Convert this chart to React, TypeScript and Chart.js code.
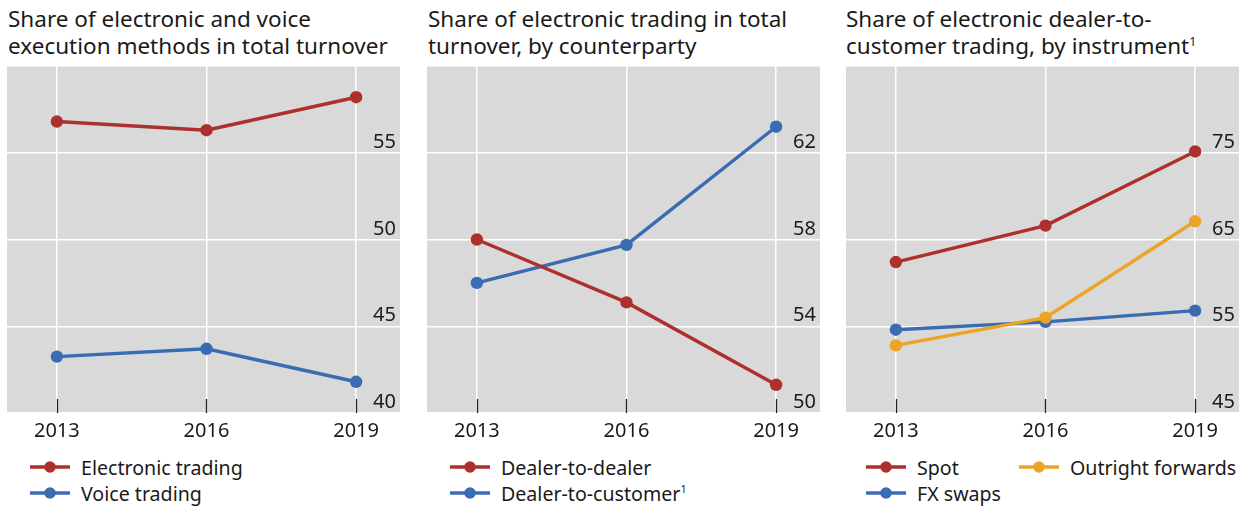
import React, { useEffect, useRef } from "react";
import { Chart, registerables } from "chart.js";

Chart.register(...registerables);

// ---------- data ----------
const years = [2013, 2016, 2019];

const electronicTrading = [56.8, 56.3, 58.2];
const voiceTrading = [43.25, 43.7, 41.8];

const dealerToDealer = [58.0, 55.1, 51.3];
const dealerToCustomer = [56.0, 57.75, 63.2];

const spot = [62.4, 66.6, 75.15];
const outrightForwards = [52.8, 56.0, 67.1];
const fxSwaps = [54.6, 55.5, 56.8];

const panel1YTicks = [40, 45, 50, 55];
const panel2YTicks = [50, 54, 58, 62];
const panel3YTicks = [45, 55, 65, 75];

// ---------- styles ----------
const RED = "#ad302c";
const BLUE = "#3a6cb3";
const ORANGE = "#eba426";
const BG = "#d9d9d9";
const TEXT = "#1a1a1a";
const FONT = "'Segoe UI', 'Noto Sans', 'Open Sans', sans-serif";

const PLOT_TOP = 66;
const PLOT_W = 393;

type Series = { label: string; values: number[]; color: string };

const bgPlugin = {
  id: "bgFill",
  beforeDraw(chart: any) {
    const { ctx, chartArea } = chart;
    ctx.save();
    ctx.fillStyle = BG;
    ctx.fillRect(chartArea.left, chartArea.top, chartArea.right - chartArea.left, chartArea.bottom - chartArea.top);
    ctx.restore();
  },
};

const innerTicksPlugin = {
  id: "innerTicks",
  afterDatasetsDraw(chart: any) {
    const { ctx, chartArea } = chart;
    const xs = chart.scales.x;
    ctx.save();
    ctx.strokeStyle = "#222";
    ctx.lineWidth = 1.3;
    xs.ticks.forEach((t: any) => {
      const px = Math.round(xs.getPixelForValue(t.value)) + 0.5;
      ctx.beginPath();
      ctx.moveTo(px, chartArea.bottom);
      ctx.lineTo(px, chartArea.bottom - 14);
      ctx.stroke();
    });
    ctx.restore();
  },
};

function makeYLabelPlugin(labels: number[]) {
  return {
    id: "yInsideLabels",
    afterDraw(chart: any) {
      const { ctx, chartArea } = chart;
      const ys = chart.scales.y;
      ctx.save();
      ctx.fillStyle = TEXT;
      ctx.font = `20px ${FONT}`;
      ctx.textAlign = "right";
      ctx.textBaseline = "alphabetic";
      labels.forEach((v) => {
        const py = ys.getPixelForValue(v);
        ctx.fillText(String(v), chartArea.right - 4, py - 5);
      });
      ctx.restore();
    },
  };
}

function LineChart({
  series,
  yMin,
  yMax,
  yStep,
  yLabels,
}: {
  series: Series[];
  yMin: number;
  yMax: number;
  yStep: number;
  yLabels: number[];
}) {
  const ref = useRef<HTMLCanvasElement>(null);
  useEffect(() => {
    const chart = new Chart(ref.current!, {
      type: "line",
      data: {
        datasets: series.map((s) => ({
          label: s.label,
          data: years.map((y, i) => ({ x: y, y: s.values[i] })),
          borderColor: s.color,
          backgroundColor: s.color,
          borderWidth: 3.4,
          pointRadius: 6.2,
          pointHoverRadius: 6.2,
          pointBorderWidth: 0,
          tension: 0,
          clip: false as any,
        })),
      },
      options: {
        animation: false,
        responsive: true,
        maintainAspectRatio: false,
        layout: { padding: 0, autoPadding: false },
        events: [],
        plugins: { legend: { display: false }, tooltip: { enabled: false } },
        scales: {
          x: {
            type: "linear",
            min: 2012,
            max: 2019.88,
            afterBuildTicks: (s: any) => {
              s.ticks = years.map((v) => ({ value: v }));
            },
            ticks: {
              callback: (v: any) => String(v),
              font: { family: FONT, size: 20 },
              color: TEXT,
              padding: 6,
              maxRotation: 0,
              autoSkip: false,
            },
            grid: { color: "#ffffff", lineWidth: 1.5, drawTicks: false },
            border: { display: false },
          },
          y: {
            position: "right",
            min: yMin,
            max: yMax,
            afterBuildTicks: (s: any) => {
              const t: any[] = [];
              for (let v = yMin; v <= yMax + 1e-9; v += yStep) t.push({ value: v });
              s.ticks = t;
            },
            ticks: { display: false },
            grid: { color: "#ffffff", lineWidth: 1.5, drawTicks: false },
            border: { display: false },
          },
        },
      } as any,
      plugins: [bgPlugin, innerTicksPlugin, makeYLabelPlugin(yLabels)],
    });
    return () => chart.destroy();
  }, []);
  return <canvas ref={ref} />;
}

function Marker({ color }: { color: string }) {
  return (
    <svg width={40} height={14} style={{ display: "block" }}>
      <line x1={0} y1={7} x2={40} y2={7} stroke={color} strokeWidth={3.4} />
      <circle cx={20} cy={7} r={5.8} fill={color} />
    </svg>
  );
}

function LegendItem({ color, children, x, y }: { color: string; children: React.ReactNode; x: number; y: number }) {
  return (
    <div
      style={{
        position: "absolute",
        left: x,
        top: y - 13,
        height: 26,
        display: "flex",
        alignItems: "center",
        whiteSpace: "nowrap",
        fontFamily: FONT,
        fontSize: 19.6,
        color: TEXT,
      }}
    >
      <Marker color={color} />
      <span style={{ marginLeft: 11 }}>{children}</span>
    </div>
  );
}

const sup: React.CSSProperties = { fontSize: "0.55em", verticalAlign: "super", lineHeight: 0 };

function Title({ x, children }: { x: number; children: React.ReactNode }) {
  return (
    <div
      style={{
        position: "absolute",
        left: x,
        top: 5,
        width: 410,
        fontFamily: FONT,
        fontSize: 22.5,
        lineHeight: "27px",
        color: TEXT,
      }}
    >
      {children}
    </div>
  );
}

function ChartBox({ x, children }: { x: number; children: React.ReactNode }) {
  return (
    <div style={{ position: "absolute", left: x, top: PLOT_TOP, width: PLOT_W, height: 383 }}>{children}</div>
  );
}

export default function App() {
  return (
    <div style={{ position: "absolute", left: 0, top: 0, width: 1246, height: 507, background: "#fff", overflow: "hidden" }}>
      <Title x={8}>
        Share of electronic and voice
        <br />
        execution methods in total turnover
      </Title>
      <Title x={428}>
        Share of electronic trading in total
        <br />
        turnover, by counterparty
      </Title>
      <Title x={846}>
        Share of electronic dealer-to-
        <br />
        customer trading, by instrument<span style={sup}>1</span>
      </Title>

      <ChartBox x={7}>
        <LineChart
          series={[
            { label: "Electronic trading", values: electronicTrading, color: RED },
            { label: "Voice trading", values: voiceTrading, color: BLUE },
          ]}
          yMin={40}
          yMax={60}
          yStep={5}
          yLabels={panel1YTicks}
        />
      </ChartBox>
      <ChartBox x={427}>
        <LineChart
          series={[
            { label: "Dealer-to-dealer", values: dealerToDealer, color: RED },
            { label: "Dealer-to-customer", values: dealerToCustomer, color: BLUE },
          ]}
          yMin={50}
          yMax={66}
          yStep={4}
          yLabels={panel2YTicks}
        />
      </ChartBox>
      <ChartBox x={846}>
        <LineChart
          series={[
            { label: "Spot", values: spot, color: RED },
            { label: "Outright forwards", values: outrightForwards, color: ORANGE },
            { label: "FX swaps", values: fxSwaps, color: BLUE },
          ]}
          yMin={45}
          yMax={85}
          yStep={10}
          yLabels={panel3YTicks}
        />
      </ChartBox>

      <LegendItem color={RED} x={30} y={467}>Electronic trading</LegendItem>
      <LegendItem color={BLUE} x={30} y={493}>Voice trading</LegendItem>

      <LegendItem color={RED} x={450} y={467}>Dealer-to-dealer</LegendItem>
      <LegendItem color={BLUE} x={450} y={493}>
        Dealer-to-customer<span style={sup}>1</span>
      </LegendItem>

      <LegendItem color={RED} x={866} y={467}>Spot</LegendItem>
      <LegendItem color={ORANGE} x={1019} y={467}>Outright forwards</LegendItem>
      <LegendItem color={BLUE} x={866} y={493}>FX swaps</LegendItem>
    </div>
  );
}
